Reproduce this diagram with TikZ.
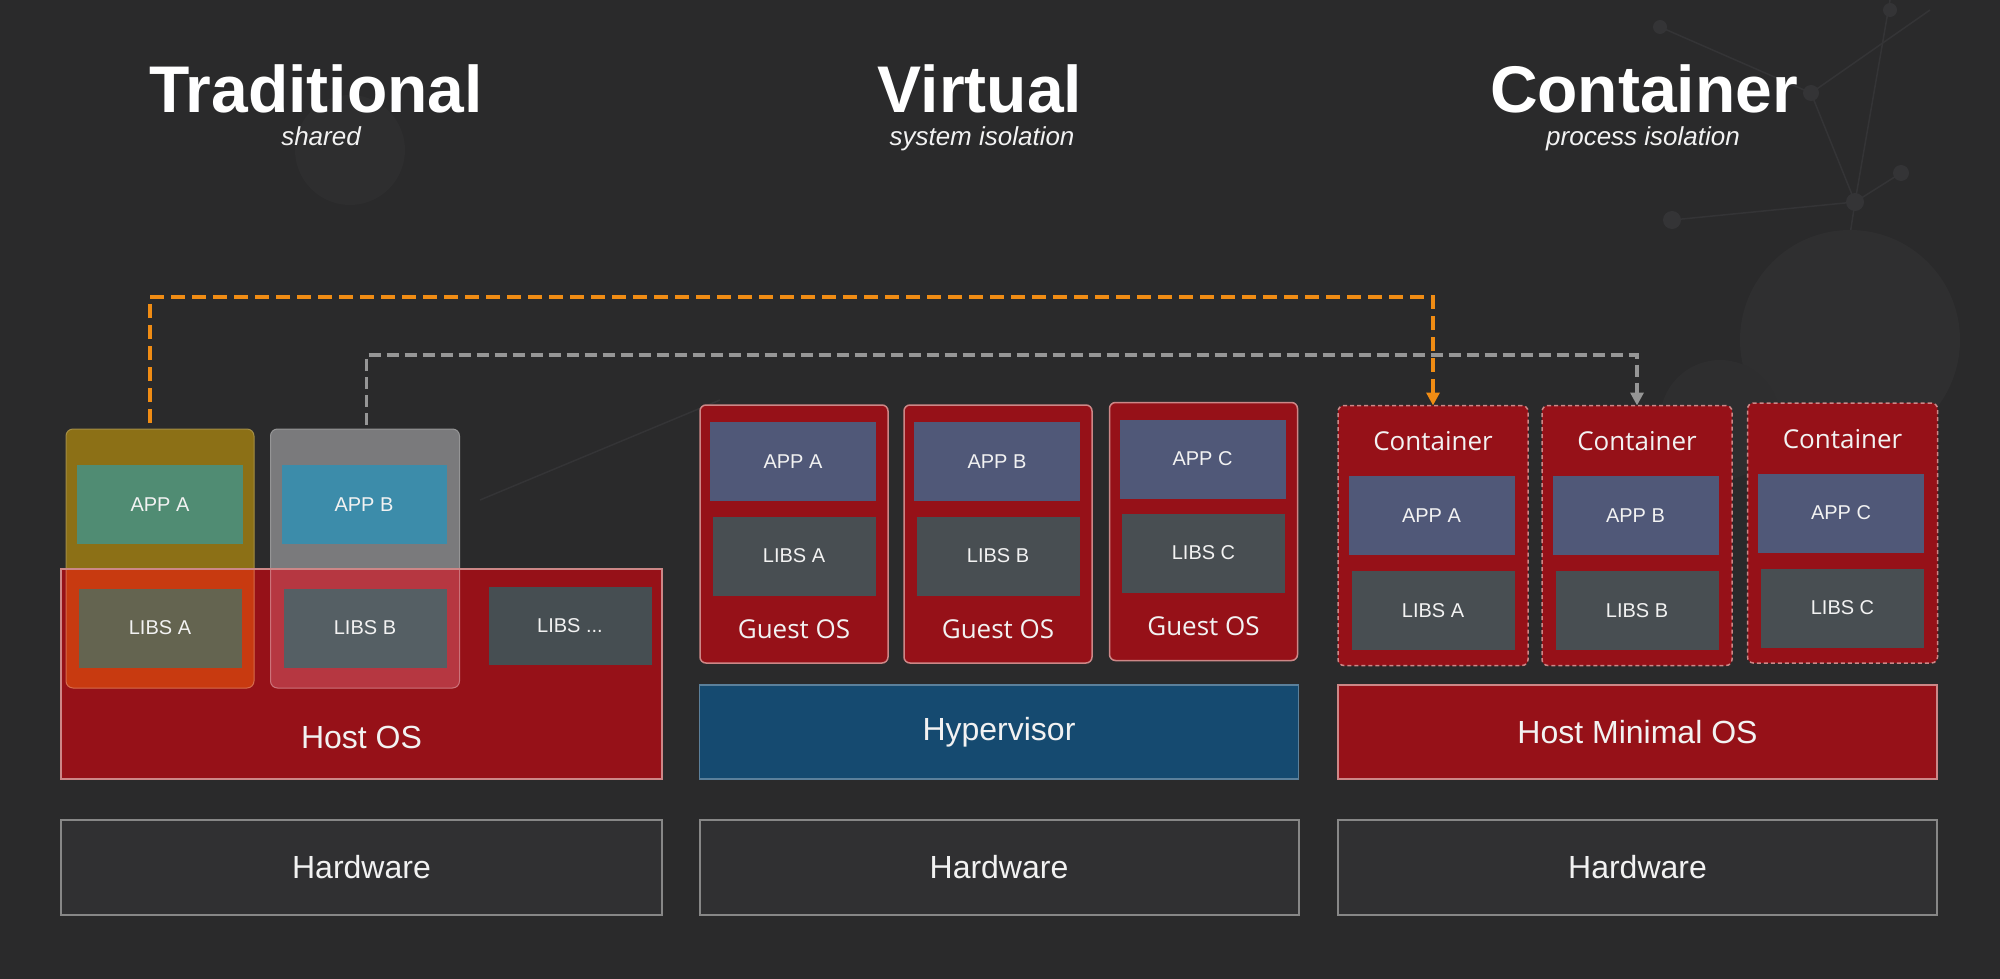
\documentclass[tikz,border=0pt]{standalone}
\usepackage{fontspec}
\setmainfont{Liberation Sans}
\newfontfamily\uifont{Open Sans}
\usetikzlibrary{arrows.meta}
\definecolor{bg}{RGB}{42,42,43}
\definecolor{deco}{RGB}{52,52,54}
\definecolor{txt}{RGB}{242,242,242}
\definecolor{redos}{RGB}{150,17,24}
\definecolor{redborder}{RGB}{205,135,135}
\definecolor{gold}{RGB}{140,112,22}
\definecolor{goldover}{RGB}{200,58,16}
\definecolor{grayapp}{RGB}{122,122,124}
\definecolor{grayover}{RGB}{182,55,65}
\definecolor{teal}{RGB}{80,140,115}
\definecolor{appblue}{RGB}{60,140,170}
\definecolor{libolive}{RGB}{100,100,80}
\definecolor{libgray}{RGB}{85,95,100}
\definecolor{libdark}{RGB}{70,78,82}
\definecolor{vapp}{RGB}{80,88,120}
\definecolor{vlib}{RGB}{72,78,82}
\definecolor{hyper}{RGB}{21,74,112}
\definecolor{hwfill}{RGB}{48,48,50}
\definecolor{hwborder}{RGB}{135,135,135}
\definecolor{orangeline}{RGB}{240,140,20}
\definecolor{grayline}{RGB}{150,150,150}
\begin{document}
\begin{tikzpicture}[x=1pt,y=-1pt,
  title/.style={text=white,font=\fontsize{66}{70}\selectfont\bfseries,anchor=base,inner sep=0pt},
  subtitle/.style={text=txt,font=\fontsize{26}{28}\selectfont\itshape,anchor=base,inner sep=0pt},
  blk/.style={rectangle,inner sep=0pt,outer sep=0pt,text=txt},
  small/.style={font=\fontsize{20}{22}\selectfont},
  big/.style={font=\fontsize{32}{34}\selectfont},
  mid/.style={font=\uifont\fontsize{26}{28}\selectfont},
  osbox/.style={blk,fill=redos,draw=redborder,line width=1.5pt},
  hwbox/.style={blk,fill=hwfill,draw=hwborder,line width=2pt},
  guest/.style={blk,fill=redos,draw=redborder,line width=1.5pt,rounded corners=6pt,minimum width=188pt,minimum height=258pt},
  cont/.style={blk,fill=redos,draw=redborder,line width=1.5pt,dash pattern=on 4pt off 3pt,rounded corners=6pt,minimum width=190pt,minimum height=260pt},
  appbox/.style={blk,small,minimum width=166pt,minimum height=79pt},
  libbox/.style={blk,small,minimum width=163pt,minimum height=79pt},
  lbl/.style={text=txt,inner sep=0pt},
  odash/.style={draw=orangeline,line width=3.5pt,dash pattern=on 14pt off 7pt,-{Triangle[width=13pt,length=13pt]}},
  gdash/.style={draw=grayline,line width=3.5pt,dash pattern=on 12pt off 6pt,-{Triangle[width=13pt,length=13pt]}}
]
\fill[bg] (0,0) rectangle (2000,979);
\useasboundingbox (0,0) rectangle (2000,979);

% faint background decoration
\begin{scope}[draw=deco,fill=deco,line width=1.5pt]
  \draw (1660,27) -- (1811,93) -- (1855,202) -- (1901,173);
  \draw (1890,0) -- (1855,202) -- (1840,300);
  \draw (1855,202) -- (1672,220);
  \draw (1811,93) -- (1930,10);
  \fill (1660,27) circle (7) (1811,93) circle (8) (1855,202) circle (9) (1901,173) circle (8) (1672,220) circle (9) (1890,10) circle (7);
  \draw (480,500) -- (720,400);
  \fill[deco!50!bg] (1850,340) circle (110);
  \fill[deco!40!bg] (350,150) circle (55);
  \fill[deco!40!bg] (1720,420) circle (60);
\end{scope}

% titles
\node[title] (t1) at (316,113) {Traditional};
\node[subtitle] (s1) at (321,146) {shared};
\node[title] (t2) at (980,113) {Virtual};
\node[subtitle] (s2) at (982,146) {system isolation};
\node[title] (t3) at (1644,113) {Container};
\node[subtitle] (s3) at (1643,146) {process isolation};

% ---------- Traditional ----------
\node[blk,fill=gold,draw=gold!80!white,line width=1pt,rounded corners=7pt,minimum width=188pt,minimum height=259pt] (appAo) at (160,558.5) {};
\node[blk,fill=grayapp,draw=grayapp!80!white,line width=1pt,rounded corners=7pt,minimum width=189pt,minimum height=259pt] (appBo) at (365,558.5) {};
\node[osbox,minimum width=601pt,minimum height=210pt] (host) at (361.5,674) {};
\begin{scope}
  \clip (61,569) rectangle (662,779);
  \fill[goldover,draw=goldover!75!white,line width=1pt,rounded corners=7pt] (66,429) rectangle (254,688);
  \fill[grayover,draw=grayover!70!white,line width=1pt,rounded corners=7pt] (270.5,429) rectangle (459.5,688);
\end{scope}
\draw[redborder,line width=1.5pt] (host.north west) rectangle (host.south east);
\node[appbox,fill=teal] (appA) at (160,504.5) {APP A};
\node[appbox,fill=appblue,minimum width=165pt] (appB) at (364,504.5) {APP B};
\node[libbox,fill=libolive] (libA) at (160,628) {LIBS A};
\node[libbox,fill=libgray] (libB) at (365,628) {LIBS B};
\node[libbox,fill=libdark,minimum height=78pt] (libX) at (570,626) {LIBS ...};
\node[lbl,big] (hostl) at (361.5,737) {Host OS};
\node[hwbox,big,minimum width=601pt,minimum height=95pt] (hw1) at (361.5,867.5) {Hardware};

% ---------- Virtual ----------
\node[guest] (g1) at (794,534) {};
\node[guest] (g2) at (998,534) {};
\node[guest] (g3) at (1203.5,531.5) {};
\node[appbox,fill=vapp] (va1) at (793,461.5) {APP A};
\node[appbox,fill=vapp] (va2) at (997,461.5) {APP B};
\node[appbox,fill=vapp] (va3) at (1202.5,459) {APP C};
\node[libbox,fill=vlib] (vl1) at (794,556) {LIBS A};
\node[libbox,fill=vlib] (vl2) at (998,556) {LIBS B};
\node[libbox,fill=vlib] (vl3) at (1203.5,553) {LIBS C};
\node[lbl,mid] (go1) at (794,629) {Guest OS};
\node[lbl,mid] (go2) at (998,629) {Guest OS};
\node[lbl,mid] (go3) at (1203.5,626) {Guest OS};
\node[blk,big,fill=hyper,draw=hyper!70!white,line width=1.5pt,minimum width=599pt,minimum height=94pt] (hyp) at (999,732) {Hypervisor};
\node[hwbox,big,minimum width=599pt,minimum height=95pt] (hw2) at (999,867.5) {Hardware};

% ---------- Container ----------
\node[cont] (c1) at (1433,535.5) {};
\node[cont] (c2) at (1637,535.5) {};
\node[cont] (c3) at (1842.5,533) {};
\node[lbl,mid] (cl1) at (1433,441) {Container};
\node[lbl,mid] (cl2) at (1637,441) {Container};
\node[lbl,mid] (cl3) at (1842.5,439) {Container};
\node[appbox,fill=vapp] (ca1) at (1431.5,515.5) {APP A};
\node[appbox,fill=vapp] (ca2) at (1635.5,515.5) {APP B};
\node[appbox,fill=vapp] (ca3) at (1841,513) {APP C};
\node[libbox,fill=vlib] (cb1) at (1433,610.5) {LIBS A};
\node[libbox,fill=vlib] (cb2) at (1637,610.5) {LIBS B};
\node[libbox,fill=vlib] (cb3) at (1842.5,608) {LIBS C};
\node[osbox,big,minimum width=599pt,minimum height=94pt] (hmos) at (1637.5,732) {Host Minimal OS};
\node[hwbox,big,minimum width=599pt,minimum height=95pt] (hw3) at (1637.5,867.5) {Hardware};

% ---------- connectors ----------
\draw[gdash,shorten <=4pt] ([xshift=1.5pt]appBo.north) -- ++(0,-74) -| (c2.north);
\draw[odash,shorten <=6pt] ([xshift=-10pt]appAo.north) -- ++(0,-132) -| (c1.north);
\end{tikzpicture}
\end{document}
